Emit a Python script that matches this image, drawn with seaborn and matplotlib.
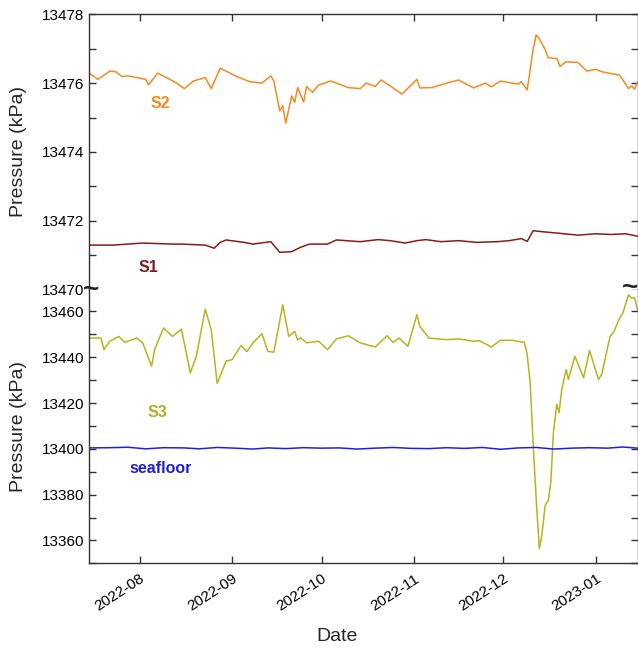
import pandas as pd
import numpy as np
import matplotlib
matplotlib.use('Agg')
import matplotlib.pyplot as plt
import matplotlib.dates as mdates
from matplotlib.ticker import MultipleLocator
import seaborn as sns

# ---- data ----
s2_dates = ['2022-07-15', '2022-07-18', '2022-07-22', '2022-07-24', '2022-07-26', '2022-07-28',
            '2022-07-31', '2022-08-03', '2022-08-04', '2022-08-07', '2022-08-10', '2022-08-13',
            '2022-08-16', '2022-08-19', '2022-08-23', '2022-08-25', '2022-08-28', '2022-08-30',
            '2022-09-02', '2022-09-07', '2022-09-11', '2022-09-14', '2022-09-15', '2022-09-17',
            '2022-09-18', '2022-09-19', '2022-09-21', '2022-09-22', '2022-09-23', '2022-09-25',
            '2022-09-26', '2022-09-28', '2022-09-30', '2022-10-04', '2022-10-07', '2022-10-10',
            '2022-10-14', '2022-10-16', '2022-10-19', '2022-10-21', '2022-10-24', '2022-10-28',
            '2022-11-02', '2022-11-03', '2022-11-07', '2022-11-12', '2022-11-16', '2022-11-21',
            '2022-11-25', '2022-11-27', '2022-11-30', '2022-12-06', '2022-12-07', '2022-12-09',
            '2022-12-11', '2022-12-12', '2022-12-13', '2022-12-15', '2022-12-16', '2022-12-19',
            '2022-12-20', '2022-12-22', '2022-12-26', '2022-12-29', '2023-01-01', '2023-01-03',
            '2023-01-09', '2023-01-12', '2023-01-13', '2023-01-14', '2023-01-15']
s2_vals = [13476.29, 13476.11, 13476.35, 13476.33, 13476.19, 13476.21,
           13476.16, 13476.11, 13475.95, 13476.29, 13476.16, 13476.02,
           13475.84, 13476.06, 13476.16, 13475.84, 13476.43, 13476.35,
           13476.21, 13476.04, 13476.00, 13476.21, 13476.06, 13475.19,
           13475.34, 13474.84, 13475.63, 13475.44, 13475.87, 13475.45,
           13475.90, 13475.73, 13475.94, 13476.06, 13475.97, 13475.87,
           13475.84, 13476.00, 13475.90, 13476.09, 13475.92, 13475.68,
           13476.11, 13475.86, 13475.87, 13476.00, 13476.09, 13475.86,
           13476.00, 13475.89, 13476.06, 13475.97, 13476.04, 13475.80,
           13476.98, 13477.40, 13477.30, 13476.98, 13476.74, 13476.71,
           13476.48, 13476.62, 13476.60, 13476.35, 13476.40, 13476.33,
           13476.23, 13475.84, 13475.92, 13475.82, 13476.03]

s1_dates = ['2022-07-15', '2022-07-23', '2022-08-02', '2022-08-12', '2022-08-15', '2022-08-23',
            '2022-08-26', '2022-08-28', '2022-08-30', '2022-09-05', '2022-09-08', '2022-09-14',
            '2022-09-17', '2022-09-21', '2022-09-24', '2022-09-27', '2022-10-03', '2022-10-06',
            '2022-10-14', '2022-10-20', '2022-10-24', '2022-10-29', '2022-11-02', '2022-11-05',
            '2022-11-10', '2022-11-16', '2022-11-22', '2022-11-29', '2022-12-03', '2022-12-07',
            '2022-12-09', '2022-12-11', '2022-12-14', '2022-12-19', '2022-12-26', '2023-01-01',
            '2023-01-06', '2023-01-11', '2023-01-15']
s1_vals = [13471.29, 13471.29, 13471.35, 13471.32, 13471.32, 13471.29,
           13471.20, 13471.37, 13471.44, 13471.37, 13471.32, 13471.39,
           13471.08, 13471.10, 13471.23, 13471.32, 13471.32, 13471.44,
           13471.39, 13471.45, 13471.42, 13471.35, 13471.42, 13471.45,
           13471.39, 13471.42, 13471.37, 13471.39, 13471.42, 13471.48,
           13471.40, 13471.71, 13471.68, 13471.64, 13471.58, 13471.62,
           13471.60, 13471.62, 13471.55]

s3_dates = ['2022-07-15', '2022-07-19', '2022-07-20', '2022-07-22', '2022-07-25', '2022-07-27',
            '2022-07-31', '2022-08-02', '2022-08-05', '2022-08-06', '2022-08-09', '2022-08-12',
            '2022-08-15', '2022-08-18', '2022-08-20', '2022-08-23', '2022-08-25', '2022-08-27',
            '2022-08-30', '2022-09-01', '2022-09-04', '2022-09-06', '2022-09-08', '2022-09-11',
            '2022-09-13', '2022-09-15', '2022-09-18', '2022-09-20', '2022-09-22', '2022-09-23',
            '2022-09-24', '2022-09-26', '2022-09-30', '2022-10-03', '2022-10-06', '2022-10-10',
            '2022-10-14', '2022-10-19', '2022-10-23', '2022-10-25', '2022-10-27', '2022-10-30',
            '2022-11-02', '2022-11-03', '2022-11-06', '2022-11-12', '2022-11-16', '2022-11-21',
            '2022-11-23', '2022-11-27', '2022-11-30', '2022-12-04', '2022-12-08',
            '2022-12-08 22:00', '2022-12-10', '2022-12-11 02:00', '2022-12-12 05:00',
            '2022-12-13 02:00', '2022-12-13 22:00', '2022-12-15', '2022-12-16 02:00',
            '2022-12-16 22:00', '2022-12-17 19:00', '2022-12-18 22:00', '2022-12-19 17:00',
            '2022-12-20 14:00', '2022-12-22 02:00', '2022-12-22 19:00', '2022-12-25',
            '2022-12-27 22:00', '2022-12-29 22:00', '2023-01-01 22:00', '2023-01-03',
            '2023-01-05 19:00', '2023-01-07', '2023-01-09', '2023-01-10', '2023-01-12',
            '2023-01-13', '2023-01-14', '2023-01-15']
s3_vals = [13448.4, 13448.4, 13443.3, 13447.0, 13449.1, 13446.5,
           13448.4, 13446.3, 13436.1, 13443.3, 13452.8, 13449.1,
           13452.3, 13433.2, 13440.4, 13461.0, 13452.0, 13428.6,
           13438.3, 13439.0, 13445.1, 13442.5, 13446.3, 13450.3,
           13442.6, 13442.2, 13462.9, 13449.1, 13451.3, 13447.5,
           13448.5, 13446.3, 13447.0, 13443.3, 13448.0, 13449.4,
           13446.3, 13444.5, 13449.4, 13446.5, 13448.4, 13444.8,
           13458.6, 13453.5, 13448.4, 13447.7, 13448.0, 13447.0,
           13447.2, 13444.5, 13447.4, 13447.4, 13446.5,
           13441.9, 13428.9, 13399.9, 13373.8,
           13356.4, 13362.2, 13375.2, 13377.4,
           13385.4, 13407.1, 13419.4, 13415.8,
           13426.0, 13434.7, 13430.3, 13440.4,
           13431.0, 13443.0, 13430.3, 13432.5,
           13449.1, 13450.9, 13457.1, 13459.0, 13467.3,
           13465.8, 13466.0, 13460.7]

sea_dates = ['2022-07-15', '2022-07-22', '2022-07-28', '2022-08-03', '2022-08-09', '2022-08-16',
             '2022-08-21', '2022-08-27', '2022-09-02', '2022-09-08', '2022-09-13', '2022-09-19',
             '2022-09-25', '2022-10-01', '2022-10-07', '2022-10-13', '2022-10-19', '2022-10-25',
             '2022-10-31', '2022-11-06', '2022-11-12', '2022-11-18', '2022-11-24', '2022-11-30',
             '2022-12-06', '2022-12-12', '2022-12-18', '2022-12-24', '2022-12-30', '2023-01-05',
             '2023-01-10', '2023-01-15']
sea_vals = [13400.4, 13400.5, 13400.7, 13400.0, 13400.5, 13400.4,
            13400.0, 13400.6, 13400.3, 13399.9, 13400.4, 13400.1,
            13400.5, 13400.3, 13400.4, 13399.9, 13400.3, 13400.6,
            13400.2, 13400.1, 13400.5, 13400.2, 13400.6, 13399.8,
            13400.4, 13400.6, 13399.9, 13400.3, 13400.5, 13400.3,
            13400.8, 13400.3]

top_series = [('S2', s2_dates, s2_vals, '#f58a1f'), ('S1', s1_dates, s1_vals, '#8b1a1a')]
bot_series = [('S3', s3_dates, s3_vals, '#b8b41e'), ('seafloor', sea_dates, sea_vals, '#1f1fe6')]

# label anchors (date, value)
labels_top = [('S2', '2022-08-08', 13475.42, '#f08a24'), ('S1', '2022-08-04', 13470.65, '#7d1f1f')]
labels_bot = [('S3', '2022-08-07', 13416, '#b5b020'), ('seafloor', '2022-08-08', 13391.2, '#2020d0')]

sns.set_theme(style='ticks')
plt.rcParams['font.family'] = ['Liberation Sans', 'DejaVu Sans']
plt.rcParams['axes.formatter.useoffset'] = False

fig = plt.figure(figsize=(6.38, 6.49), dpi=100)
W, H = 638, 649
left, right = 89, 637.5
ax_top = fig.add_axes([left / W, 1 - 289.5 / H, (right - left) / W, (289.5 - 14.3) / H])
ax_bot = fig.add_axes([left / W, 1 - 563.3 / H, (right - left) / W, (563.3 - 289.5) / H], sharex=ax_top)

for name, d, v, c in top_series:
    sns.lineplot(x=pd.to_datetime(d, format='mixed'), y=v, ax=ax_top, color=c, linewidth=1.1)
for name, d, v, c in bot_series:
    sns.lineplot(x=pd.to_datetime(d, format='mixed'), y=v, ax=ax_bot, color=c, linewidth=1.1)

for name, d, v, c in labels_top:
    ax_top.text(pd.Timestamp(d), v, name, color=c, fontsize=11.5, fontweight='bold',
                ha='center', va='center')
for name, d, v, c in labels_bot:
    ax_bot.text(pd.Timestamp(d), v, name, color=c, fontsize=11.5, fontweight='bold',
                ha='center', va='center')

ax_top.set_xlim(pd.Timestamp('2022-07-15'), pd.Timestamp('2023-01-15'))
ax_top.set_ylim(13470, 13478)
ax_top.yaxis.set_major_locator(MultipleLocator(2))
ax_top.yaxis.set_minor_locator(MultipleLocator(1))
ax_top.ticklabel_format(axis='y', useOffset=False, style='plain')
ax_bot.set_ylim(13350, 13469.6)
ax_bot.set_yticks([13360, 13380, 13400, 13420, 13440, 13460])
ax_bot.yaxis.set_minor_locator(MultipleLocator(10))

ax_bot.xaxis.set_major_locator(mdates.MonthLocator())
ax_bot.xaxis.set_major_formatter(mdates.DateFormatter('%Y-%m'))

for ax in (ax_top, ax_bot):
    for s in ax.spines.values():
        s.set_color('#333333')
        s.set_linewidth(1.0)
    ax.tick_params(axis='both', which='both', direction='in', length=5, width=1,
                   colors='#333333', labelcolor='black', labelsize=11, right=True)
    ax.set_ylabel('Pressure (kPa)', fontsize=14)
    ax.yaxis.set_label_coords(-0.113, 0.5)

ax_top.spines['bottom'].set_visible(False)
ax_bot.spines['top'].set_visible(False)
ax_top.tick_params(axis='x', which='both', bottom=False, top=True, labelbottom=False)
ax_bot.tick_params(axis='x', which='both', bottom=True, top=False)
ax_bot.tick_params(axis='x', pad=6)
plt.setp(ax_bot.get_xticklabels(), rotation=33, ha='right', rotation_mode='anchor')
ax_bot.set_xlabel('Date', fontsize=14)
ax_bot.xaxis.set_label_coords((337 - left) / (right - left), -0.235)

# axis-break marks
fig.text(left / W + 0.003, 1 - 290 / H, '~', fontsize=20, fontweight='bold', ha='center', va='center')
fig.text(right / W - 0.012, 1 - 288 / H, '~', fontsize=20, fontweight='bold', ha='center', va='center')

fig.savefig('out.png', dpi=100)
